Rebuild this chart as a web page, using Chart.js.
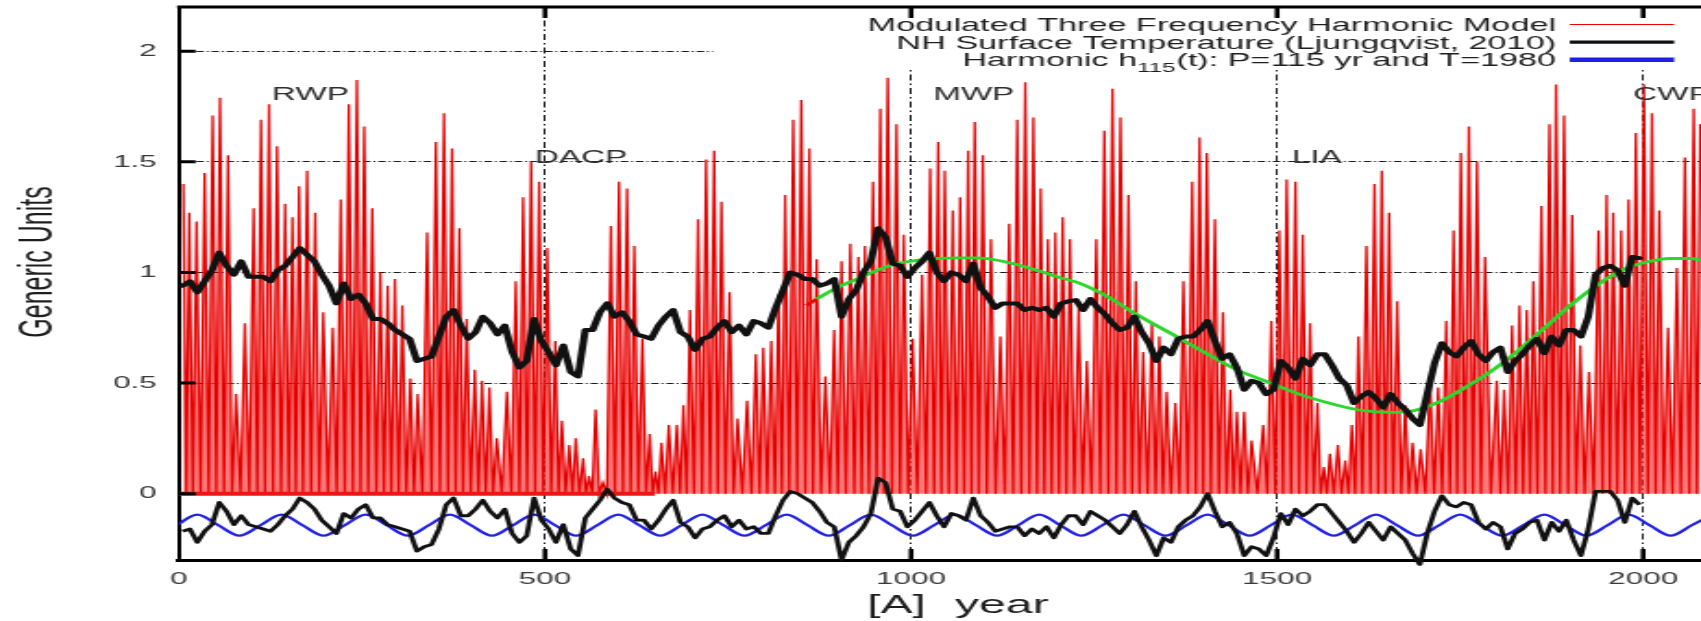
<!DOCTYPE html>
<html>
<head>
<meta charset="utf-8">
<title>Modulated three-frequency harmonic model and NH temperature</title>
<script src="https://cdn.jsdelivr.net/npm/chart.js@4.4.1/dist/chart.umd.min.js"></script>
<style>
  html, body { margin: 0; padding: 0; background: #fff; width: 1701px; height: 621px; overflow: hidden; }
  /* the figure is laid out on a narrow canvas and stretched sideways */
  #wrap { position: absolute; left: 0; top: 0; width: 920px; height: 621px;
          transform: scaleX(1.848913); transform-origin: 0 0; }
  canvas { display: block; }
</style>
</head>
<body>
<div id="wrap"><canvas id="chart" width="920" height="621"></canvas></div>
<script>
// ---------- axis ticks ----------
const xTickValues = [0, 500, 1000, 1500, 2000];
const yTickValues = [0, 0.5, 1, 1.5, 2];

// ---------- modulated three-frequency harmonic model: cycle peak years and heights ----------
const modelPeakYears = [
  6, 14, 24, 35, 46, 56, 67, 78, 90, 102,
  112, 123, 134, 145, 155, 164, 175, 186, 197, 210,
  221, 232, 243, 253, 264, 275, 285, 295, 305, 316,
  326, 339, 351, 362, 373, 383, 393, 404, 414, 424,
  434, 448, 460, 470, 481, 492, 503, 514, 523, 533,
  542, 552, 560, 569, 579, 590, 601, 612, 622, 633,
  643, 651, 659, 669, 680, 689, 698, 709, 720, 731,
  741, 752, 763, 776, 788, 798, 809, 819, 828, 839,
  850, 861, 871, 883, 895, 905, 917, 928, 937, 948,
  958, 968, 980, 990, 1002, 1015, 1026, 1037, 1046, 1057,
  1067, 1078, 1087, 1098, 1109, 1122, 1134, 1145, 1156, 1167,
  1177, 1187, 1197, 1207, 1217, 1229, 1240, 1253, 1264, 1275,
  1286, 1297, 1307, 1317, 1329, 1339, 1349, 1361, 1372, 1384,
  1394, 1404, 1415, 1426, 1436, 1445, 1455, 1465, 1481, 1492,
  1503, 1513, 1525, 1535, 1545, 1555, 1564, 1572, 1583, 1593,
  1602, 1611, 1622, 1633, 1643, 1653, 1664, 1675, 1685, 1696,
  1709, 1720, 1731, 1741, 1751, 1762, 1773, 1784, 1800, 1810,
  1821, 1831, 1841, 1850, 1861, 1872, 1881, 1892, 1903, 1914,
  1926, 1939, 1950, 1959, 1970, 1980, 1990, 2001, 2012, 2022,
  2034, 2046, 2057, 2069, 2078
];
const modelPeakValues = [
  1.40, 1.27, 1.23, 1.45, 1.71, 1.79, 1.53, 0.45, 0.77, 1.29,
  1.69, 1.76, 1.57, 1.31, 1.25, 1.39, 1.46, 1.27, 0.82, 0.75,
  1.33, 1.76, 1.87, 1.66, 1.29, 1.00, 0.94, 0.97, 0.85, 0.52,
  0.45, 1.18, 1.59, 1.72, 1.56, 1.20, 0.79, 0.56, 0.51, 0.48,
  0.25, 0.46, 0.96, 1.34, 1.50, 1.41, 1.11, 0.69, 0.33, 0.22,
  0.25, 0.16, 0.08, 0.38, 0.05, 1.21, 1.41, 1.38, 1.12, 0.70,
  0.27, 0.10, 0.23, 0.31, 0.31, 0.40, 0.83, 1.24, 1.51, 1.55,
  1.32, 0.91, 0.34, 0.42, 0.63, 0.66, 0.69, 0.90, 1.35, 1.69,
  1.78, 1.56, 1.06, 0.53, 0.74, 1.05, 1.13, 1.07, 1.12, 1.41,
  1.74, 1.88, 1.67, 1.17, 0.70, 0.99, 1.47, 1.59, 1.46, 1.28,
  1.34, 1.55, 1.68, 1.53, 1.15, 0.71, 1.22, 1.69, 1.86, 1.70,
  1.38, 1.15, 1.18, 1.25, 1.15, 0.85, 0.60, 1.15, 1.64, 1.83,
  1.70, 1.35, 0.96, 0.64, 0.77, 0.71, 0.46, 0.41, 0.96, 1.41,
  1.61, 1.54, 1.24, 0.82, 0.47, 0.37, 0.37, 0.24, 0.31, 0.78,
  1.19, 1.42, 1.41, 1.17, 0.77, 0.41, 0.12, 0.18, 0.22, 0.15,
  0.31, 0.71, 1.12, 1.40, 1.46, 1.27, 0.87, 0.40, 0.23, 0.20,
  0.50, 0.48, 0.78, 1.19, 1.54, 1.66, 1.50, 1.07, 0.51, 0.47,
  0.76, 0.85, 0.83, 0.96, 1.30, 1.67, 1.85, 1.71, 1.26, 0.67,
  0.55, 1.19, 1.35, 1.27, 1.19, 1.33, 1.63, 1.85, 1.72, 1.28,
  0.75, 1.02, 1.52, 1.74, 1.67
];
// the model's zero line, drawn heavy over the hindcast part
const modelBaseYears = [0, 650];
const modelBaseValues = [0, 0];
// short red piece where the millennial curve begins
const modelStubYears = [857, 871];
const modelStubValues = [0.85, 0.88];

// ---------- NH surface temperature (Ljungqvist, 2010), decadal ----------
const tempYears = [
  5, 15, 25, 35, 45, 55, 65, 75, 85, 95,
  105, 115, 125, 135, 145, 155, 165, 175, 185, 195,
  205, 215, 225, 235, 245, 255, 265, 275, 285, 295,
  305, 315, 325, 335, 345, 355, 365, 375, 385, 395,
  405, 415, 425, 435, 445, 455, 465, 475, 485, 495,
  505, 515, 525, 535, 545, 555, 565, 575, 585, 595,
  605, 615, 625, 635, 645, 655, 665, 675, 685, 695,
  705, 715, 725, 735, 745, 755, 765, 775, 785, 795,
  805, 815, 825, 835, 845, 855, 865, 875, 885, 895,
  905, 915, 925, 935, 945, 955, 965, 975, 985, 995,
  1005, 1015, 1025, 1035, 1045, 1055, 1065, 1075, 1085, 1095,
  1105, 1115, 1125, 1135, 1145, 1155, 1165, 1175, 1185, 1195,
  1205, 1215, 1225, 1235, 1245, 1255, 1265, 1275, 1285, 1295,
  1305, 1315, 1325, 1335, 1345, 1355, 1365, 1375, 1385, 1395,
  1405, 1415, 1425, 1435, 1445, 1455, 1465, 1475, 1485, 1495,
  1505, 1515, 1525, 1535, 1545, 1555, 1565, 1575, 1585, 1595,
  1605, 1615, 1625, 1635, 1645, 1655, 1665, 1675, 1685, 1695,
  1705, 1715, 1725, 1735, 1745, 1755, 1765, 1775, 1785, 1795,
  1805, 1815, 1825, 1835, 1845, 1855, 1865, 1875, 1885, 1895,
  1905, 1915, 1925, 1935, 1945, 1955, 1965, 1975, 1985, 1995
];
const tempValues = [
  0.94, 0.96, 0.91, 0.96, 1.01, 1.09, 1.03, 0.99, 1.05, 0.98,
  0.98, 0.98, 0.96, 1.01, 1.03, 1.07, 1.11, 1.08, 1.05, 0.99,
  0.94, 0.86, 0.95, 0.88, 0.90, 0.86, 0.79, 0.79, 0.77, 0.74,
  0.72, 0.70, 0.60, 0.61, 0.62, 0.71, 0.80, 0.83, 0.76, 0.70,
  0.73, 0.80, 0.77, 0.72, 0.76, 0.64, 0.57, 0.60, 0.79, 0.69,
  0.64, 0.58, 0.67, 0.55, 0.53, 0.74, 0.74, 0.82, 0.86, 0.80,
  0.82, 0.78, 0.72, 0.71, 0.70, 0.76, 0.80, 0.83, 0.73, 0.71,
  0.65, 0.70, 0.71, 0.75, 0.78, 0.73, 0.76, 0.72, 0.78, 0.77,
  0.75, 0.84, 0.92, 1.00, 0.99, 0.97, 0.97, 0.94, 0.95, 0.97,
  0.80, 0.88, 0.92, 1.00, 1.05, 1.20, 1.16, 1.04, 1.03, 0.98,
  1.02, 1.05, 1.09, 1.00, 0.96, 1.00, 0.99, 0.96, 1.04, 0.93,
  0.89, 0.84, 0.86, 0.86, 0.86, 0.83, 0.84, 0.83, 0.84, 0.80,
  0.86, 0.87, 0.875, 0.83, 0.88, 0.84, 0.81, 0.77, 0.74, 0.75,
  0.80, 0.73, 0.68, 0.60, 0.66, 0.63, 0.70, 0.71, 0.71, 0.74,
  0.78, 0.69, 0.61, 0.63, 0.57, 0.47, 0.51, 0.50, 0.45, 0.47,
  0.60, 0.57, 0.52, 0.61, 0.58, 0.63, 0.63, 0.58, 0.52, 0.49,
  0.41, 0.44, 0.46, 0.43, 0.39, 0.45, 0.41, 0.38, 0.34, 0.31,
  0.45, 0.59, 0.68, 0.64, 0.62, 0.66, 0.69, 0.63, 0.60, 0.64,
  0.66, 0.55, 0.60, 0.63, 0.67, 0.70, 0.635, 0.71, 0.67, 0.74,
  0.74, 0.71, 0.80, 0.99, 1.02, 1.03, 1.01, 0.94, 1.07, 1.065
];
// the same record with its slow trend removed, shown along the bottom
const tempDetrended = [
  -0.17, -0.16, -0.22, -0.17, -0.14, -0.04, -0.08, -0.14, -0.10, -0.14,
  -0.15, -0.16, -0.17, -0.14, -0.10, -0.07, -0.02, -0.04, -0.07, -0.12,
  -0.15, -0.18, -0.09, -0.11, -0.07, -0.05, -0.11, -0.11, -0.14, -0.15,
  -0.16, -0.17, -0.26, -0.24, -0.23, -0.16, -0.05, -0.02, -0.10, -0.10,
  -0.07, -0.03, -0.08, -0.11, -0.07, -0.18, -0.22, -0.19, -0.02, -0.12,
  -0.16, -0.22, -0.14, -0.25, -0.28, -0.11, -0.07, -0.03, 0.02, -0.02,
  -0.04, -0.05, -0.12, -0.12, -0.16, -0.12, -0.07, -0.03, -0.13, -0.15,
  -0.20, -0.16, -0.15, -0.12, -0.10, -0.15, -0.12, -0.16, -0.15, -0.18,
  -0.18, -0.10, -0.03, 0.01, 0.00, -0.02, -0.04, -0.08, -0.13, -0.15,
  -0.30, -0.22, -0.19, -0.15, -0.09, 0.07, 0.05, -0.07, -0.08, -0.15,
  -0.12, -0.08, -0.04, -0.10, -0.15, -0.09, -0.10, -0.12, -0.02, -0.10,
  -0.13, -0.17, -0.16, -0.15, -0.15, -0.19, -0.16, -0.18, -0.15, -0.20,
  -0.14, -0.10, -0.10, -0.14, -0.08, -0.10, -0.12, -0.15, -0.18, -0.14,
  -0.08, -0.15, -0.21, -0.28, -0.20, -0.22, -0.15, -0.12, -0.10, -0.06,
  0.00, -0.08, -0.15, -0.13, -0.18, -0.28, -0.24, -0.25, -0.28, -0.20,
  -0.09, -0.14, -0.07, -0.10, -0.08, -0.05, -0.05, -0.09, -0.13, -0.17,
  -0.22, -0.18, -0.13, -0.17, -0.21, -0.15, -0.18, -0.21, -0.27, -0.32,
  -0.18, -0.08, -0.01, -0.05, -0.06, -0.04, -0.05, -0.13, -0.16, -0.13,
  -0.15, -0.25, -0.18, -0.16, -0.13, -0.12, -0.21, -0.13, -0.17, -0.12,
  -0.21, -0.28, -0.16, 0.01, 0.01, 0.01, -0.03, -0.13, -0.02, -0.05
];

// ---------- millennial harmonic (green) ----------
const millYears = [871, 898, 926, 954, 981, 1008, 1036, 1063, 1090, 1118,
  1145, 1172, 1200, 1227, 1263, 1308, 1354, 1400, 1445, 1491,
  1536, 1582, 1618, 1654, 1686, 1718, 1754, 1791, 1827, 1864,
  1900, 1937, 1973, 2005, 2037, 2064, 2080];
const millValues = [0.88, 0.93, 0.97, 1.01, 1.04, 1.055, 1.063, 1.066, 1.066, 1.055,
  1.035, 1.01, 0.98, 0.955, 0.90, 0.81, 0.726, 0.64, 0.56, 0.50,
  0.443, 0.40, 0.375, 0.367, 0.375, 0.41, 0.474, 0.55, 0.64, 0.745,
  0.85, 0.943, 1.014, 1.047, 1.063, 1.063, 1.055];

// ---------- harmonic h115(t), P = 115 yr, T = 1980 (blue) ----------
const h115Years = [
  -3.75, 25, 53.75, 82.5, 111.25, 140, 168.75, 197.5,
  226.25, 255, 283.75, 312.5, 341.25, 370, 398.75, 427.5,
  456.25, 485, 513.75, 542.5, 571.25, 600, 628.75, 657.5,
  686.25, 715, 743.75, 772.5, 801.25, 830, 858.75, 887.5,
  916.25, 945, 973.75, 1002.5, 1031.25, 1060, 1088.75, 1117.5,
  1146.25, 1175, 1203.75, 1232.5, 1261.25, 1290, 1318.75, 1347.5,
  1376.25, 1405, 1433.75, 1462.5, 1491.25, 1520, 1548.75, 1577.5,
  1606.25, 1635, 1663.75, 1692.5, 1721.25, 1750, 1778.75, 1807.5,
  1836.25, 1865, 1893.75, 1922.5, 1951.25, 1980, 2008.75, 2037.5,
  2066.25, 2095
];
const h115Values = [
  -0.143, -0.095, -0.143, -0.19, -0.143, -0.095, -0.143, -0.19,
  -0.143, -0.095, -0.143, -0.19, -0.143, -0.095, -0.143, -0.19,
  -0.143, -0.095, -0.143, -0.19, -0.143, -0.095, -0.143, -0.19,
  -0.143, -0.095, -0.143, -0.19, -0.143, -0.095, -0.143, -0.19,
  -0.143, -0.095, -0.143, -0.19, -0.143, -0.095, -0.143, -0.19,
  -0.143, -0.095, -0.143, -0.19, -0.143, -0.095, -0.143, -0.19,
  -0.143, -0.095, -0.143, -0.19, -0.143, -0.095, -0.143, -0.19,
  -0.143, -0.095, -0.143, -0.19, -0.143, -0.095, -0.143, -0.19,
  -0.143, -0.095, -0.143, -0.19, -0.143, -0.095, -0.143, -0.19,
  -0.143, -0.095
];

// ---------- annotations ----------
const periodNames  = ['RWP', 'DACP', 'MWP', 'LIA', 'CWP'];
const periodYears  = [127, 486, 1030, 1520, 1986];
const periodLevels = [1.78, 1.495, 1.78, 1.495, 1.78];

const keyTexts = [
  ['Modulated Three Frequency Harmonic Model'],
  ['NH Surface Temperature (Ljungqvist, 2010)'],
  ['Harmonic h', '115', '(t): P=115 yr and T=1980']
];
const keyColors = ['rgb(235,0,0)', '#111111', '#1f1fe6'];
const keyWidths = [1, 3.4, 4.4];

const yTitle = 'Generic Units';
const xTitleParts = ['[A]', 'year'];

// ---------- helpers ----------
const FONT = '"Liberation Sans", Arial, Helvetica, sans-serif';
const pairs = (xs, ys) => xs.map((x, i) => ({ x: x, y: ys[i] }));

// each model cycle drawn as a spike that returns to zero between peaks
const modelPoints = [];
modelPeakYears.forEach((yr, i) => {
  modelPoints.push({ x: yr, y: modelPeakValues[i] });
  if (i < modelPeakYears.length - 1) {
    modelPoints.push({ x: (yr + modelPeakYears[i + 1]) / 2, y: 0 });
  }
});

const decor = {
  id: 'decor',
  beforeDatasetsDraw(chart) {
    // opaque key box in the upper right corner
    const { ctx, chartArea: a } = chart;
    ctx.save();
    ctx.fillStyle = '#ffffff';
    ctx.fillRect(385.6, a.top, a.right - 385.6 + 2, 69 - a.top);
    ctx.restore();
  },
  afterDatasetsDraw(chart) {
    const { ctx, chartArea: a, scales } = chart;
    const xs = scales.x, ys = scales.y;
    ctx.save();

    // top border of the frame
    ctx.strokeStyle = '#000';
    ctx.lineWidth = 3;
    ctx.beginPath();
    ctx.moveTo(a.left - 1, a.top);
    ctx.lineTo(a.right + 2, a.top);
    ctx.stroke();

    // inward tick marks
    ctx.lineWidth = 2.6;
    ctx.beginPath();
    xTickValues.forEach(v => {
      if (v === xs.min) return;
      const px = xs.getPixelForValue(v);
      ctx.moveTo(px, a.bottom); ctx.lineTo(px, a.bottom - 11);
      ctx.moveTo(px, a.top); ctx.lineTo(px, a.top + 11);
    });
    ctx.stroke();
    ctx.lineWidth = 3;
    ctx.beginPath();
    yTickValues.forEach(v => {
      const py = ys.getPixelForValue(v);
      ctx.moveTo(a.left, py); ctx.lineTo(a.left + 9, py);
    });
    ctx.stroke();

    // period labels
    ctx.fillStyle = '#2e2e2e';
    ctx.font = '18px ' + FONT;
    ctx.textAlign = 'left';
    ctx.textBaseline = 'alphabetic';
    periodNames.forEach((name, i) => {
      ctx.fillText(name, xs.getPixelForValue(periodYears[i]), ys.getPixelForValue(periodLevels[i]));
    });

    // key
    const right = 841.6;
    const baselines = [31, 48.6, 66.2];
    ctx.fillStyle = '#1e1e1e';
    keyTexts.forEach((parts, r) => {
      const base = baselines[r];
      if (parts.length === 1) {
        ctx.font = '18.5px ' + FONT;
        ctx.textAlign = 'right';
        ctx.fillText(parts[0], right, base);
      } else {
        ctx.textAlign = 'left';
        ctx.font = '18.5px ' + FONT;
        const wTail = ctx.measureText(parts[2]).width;
        const wHead = ctx.measureText(parts[0]).width;
        ctx.font = '13px ' + FONT;
        const wSub = ctx.measureText(parts[1]).width;
        const xTail = right - wTail;
        const xSub = xTail - wSub - 0.5;
        const xHead = xSub - wHead;
        ctx.fillText(parts[1], xSub, base + 6);
        ctx.font = '18.5px ' + FONT;
        ctx.fillText(parts[0], xHead, base);
        ctx.fillText(parts[2], xTail, base);
      }
      ctx.strokeStyle = keyColors[r];
      ctx.lineWidth = keyWidths[r];
      ctx.beginPath();
      ctx.moveTo(849, base - 6.5);
      ctx.lineTo(905.5, base - 6.5);
      ctx.stroke();
    });

    // axis titles
    ctx.fillStyle = '#1e1e1e';
    ctx.font = '26px ' + FONT;
    ctx.textAlign = 'left';
    ctx.fillText(xTitleParts[0], 469, 613);
    ctx.fillText(xTitleParts[1], 516.5, 613);

    ctx.save();
    ctx.translate(21.5, 262);
    ctx.rotate(-Math.PI / 2);
    ctx.font = '25px ' + FONT;
    ctx.textAlign = 'center';
    ctx.textBaseline = 'middle';
    ctx.fillText(yTitle, 0, 0);
    ctx.restore();

    ctx.restore();
  }
};

const hideAtZero = (c) => (c.tick && c.tick.value === 0) ? 'rgba(0,0,0,0)' : '#1a1a1a';

new Chart(document.getElementById('chart'), {
  type: 'line',
  data: {
    datasets: [
      {
        label: 'NH Surface Temperature (Ljungqvist, 2010)',
        data: pairs(tempYears, tempValues),
        borderColor: '#111111', borderWidth: 4, pointRadius: 0,
        borderJoinStyle: 'round', borderCapStyle: 'round', order: 1
      },
      {
        label: 'NH temperature, detrended',
        data: pairs(tempYears, tempDetrended),
        borderColor: '#111111', borderWidth: 2.8, pointRadius: 0,
        borderJoinStyle: 'round', order: 2,
        clip: { left: 0, top: 0, right: 0, bottom: 8 }
      },
      {
        label: 'Millennial harmonic',
        data: pairs(millYears, millValues),
        borderColor: '#2cd62c', borderWidth: 2.8, pointRadius: 0,
        cubicInterpolationMode: 'monotone', order: 3
      },
      {
        label: 'Model start',
        data: pairs(modelStubYears, modelStubValues),
        borderColor: 'rgb(240,0,0)', borderWidth: 2.5, pointRadius: 0, order: 3.5
      },
      {
        label: 'Harmonic h115(t): P=115 yr and T=1980',
        data: pairs(h115Years, h115Values),
        borderColor: '#1f1fe6', borderWidth: 2.2, pointRadius: 0,
        cubicInterpolationMode: 'monotone', order: 4
      },
      {
        label: 'Model zero line',
        data: pairs(modelBaseYears, modelBaseValues),
        borderColor: 'rgb(240,20,20)', borderWidth: 4, pointRadius: 0, order: 5
      },
      {
        label: 'Modulated Three Frequency Harmonic Model',
        data: modelPoints,
        borderColor: 'rgb(228,0,0)', borderWidth: 1.3,
        backgroundColor: 'rgba(255,50,50,0.66)',
        fill: 'origin', pointRadius: 0, tension: 0, order: 6
      }
    ]
  },
  options: {
    responsive: false,
    animation: false,
    devicePixelRatio: 1,
    layout: { padding: { left: 0, top: 7, right: 0, bottom: 0 } },
    plugins: { legend: { display: false }, tooltip: { enabled: false } },
    scales: {
      x: {
        type: 'linear', min: 0, max: 2079,
        afterBuildTicks: (s) => { s.ticks = xTickValues.map(v => ({ value: v })); },
        afterFit: (s) => { s.height = 61; s.paddingLeft = 0; s.paddingRight = 0; },
        ticks: {
          font: { family: FONT, size: 17 }, color: '#3a3a3a', padding: 9,
          maxRotation: 0, autoSkip: false, callback: (v) => String(v)
        },
        grid: { color: hideAtZero, lineWidth: 1, drawTicks: false },
        border: { display: true, color: '#000', width: 3, dash: [6, 3, 1.5, 3] }
      },
      y: {
        type: 'linear', min: -0.3, max: 2.2,
        afterBuildTicks: (s) => { s.ticks = yTickValues.map(v => ({ value: v })); },
        afterFit: (s) => { s.width = 96.8; s.paddingTop = 0; s.paddingBottom = 0; },
        ticks: {
          font: { family: FONT, size: 17 }, color: '#3a3a3a', padding: 12,
          autoSkip: false, callback: (v) => String(v)
        },
        grid: { color: hideAtZero, lineWidth: 1, drawTicks: false },
        border: { display: true, color: '#000', width: 2, dash: [4, 1.6, 1, 1.6] }
      }
    }
  },
  plugins: [decor]
});
</script>
</body>
</html>
